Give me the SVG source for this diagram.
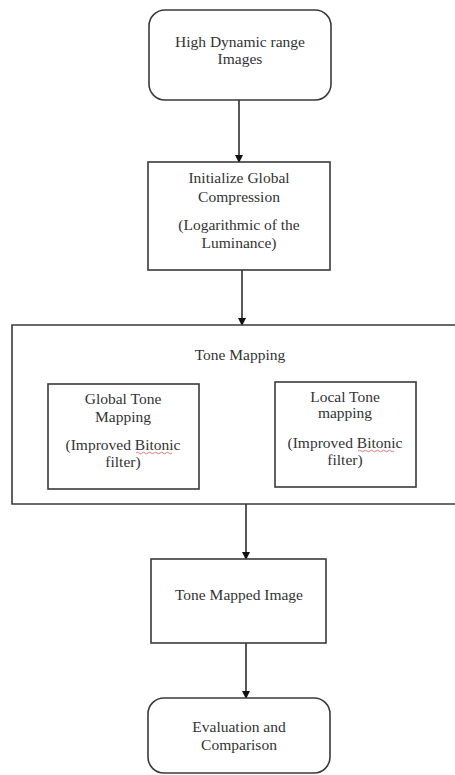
<svg xmlns="http://www.w3.org/2000/svg" width="455" height="775" viewBox="0 0 455 775">
<style>
.box{fill:#fff;stroke:#3a3a3a;stroke-width:1.6}
.t{font-family:"Liberation Serif","Times New Roman",serif;font-size:15.5px;fill:#333;text-anchor:middle}
.c{stroke:#111;stroke-width:1.4;fill:none;marker-end:url(#ah)}
.sq{fill:none;stroke:#e05060;stroke-width:0.8}
</style>
<defs>
<marker id="ah" markerWidth="8" markerHeight="8" refX="7" refY="4" orient="auto" markerUnits="userSpaceOnUse">
<path d="M0,0 L8,4 L0,8 z" fill="#111"/>
</marker>
</defs>
<rect width="455" height="775" fill="#fff"/>
<g id="connectors">
<line class="c" x1="239" y1="100" x2="239" y2="162"/>
<line class="c" x1="242" y1="270" x2="242" y2="325"/>
<line class="c" x1="246" y1="504" x2="246" y2="559"/>
<line class="c" x1="246" y1="643" x2="246" y2="698"/>
</g>
<g id="hdr">
<rect class="box" x="149" y="10" width="182" height="90" rx="16"/>
<text class="t" x="240" y="47">High Dynamic range</text>
<text class="t" x="240" y="64">Images</text>
</g>
<g id="init">
<rect class="box" x="148" y="162" width="182" height="108"/>
<text class="t" x="239" y="183">Initialize Global</text>
<text class="t" x="239" y="202">Compression</text>
<text class="t" x="239" y="230">(Logarithmic of the</text>
<text class="t" x="239" y="248">Luminance)</text>
</g>
<g id="tonemapping">
<path class="box" d="M456,325 H12 V504 H456"/>
<text class="t" x="240" y="360">Tone Mapping</text>
</g>
<g id="global">
<rect class="box" x="48" y="384" width="151" height="105"/>
<text class="t" x="123" y="404">Global Tone</text>
<text class="t" x="123" y="422">Mapping</text>
<text class="t" x="123" y="450">(Improved Bitonic</text>
<text class="t" x="123" y="467">filter)</text>
<path class="sq" d="M136,453 q1.5,-1.5 3,0 t3,0 t3,0 t3,0 t3,0 t3,0 t3,0 t3,0 t3,0 t3,0 t3,0 t3,0"/>
</g>
<g id="local">
<rect class="box" x="275" y="382" width="141" height="105"/>
<text class="t" x="345" y="402">Local Tone</text>
<text class="t" x="345" y="418">mapping</text>
<text class="t" x="345" y="448">(Improved Bitonic</text>
<text class="t" x="345" y="465">filter)</text>
<path class="sq" d="M358,451 q1.5,-1.5 3,0 t3,0 t3,0 t3,0 t3,0 t3,0 t3,0 t3,0 t3,0 t3,0 t3,0 t3,0"/>
</g>
<g id="mapped">
<rect class="box" x="151" y="559" width="175" height="84"/>
<text class="t" x="239" y="600">Tone Mapped Image</text>
</g>
<g id="eval">
<rect class="box" x="148" y="698" width="182" height="75" rx="16"/>
<text class="t" x="239" y="732">Evaluation and</text>
<text class="t" x="239" y="750">Comparison</text>
</g>
</svg>
